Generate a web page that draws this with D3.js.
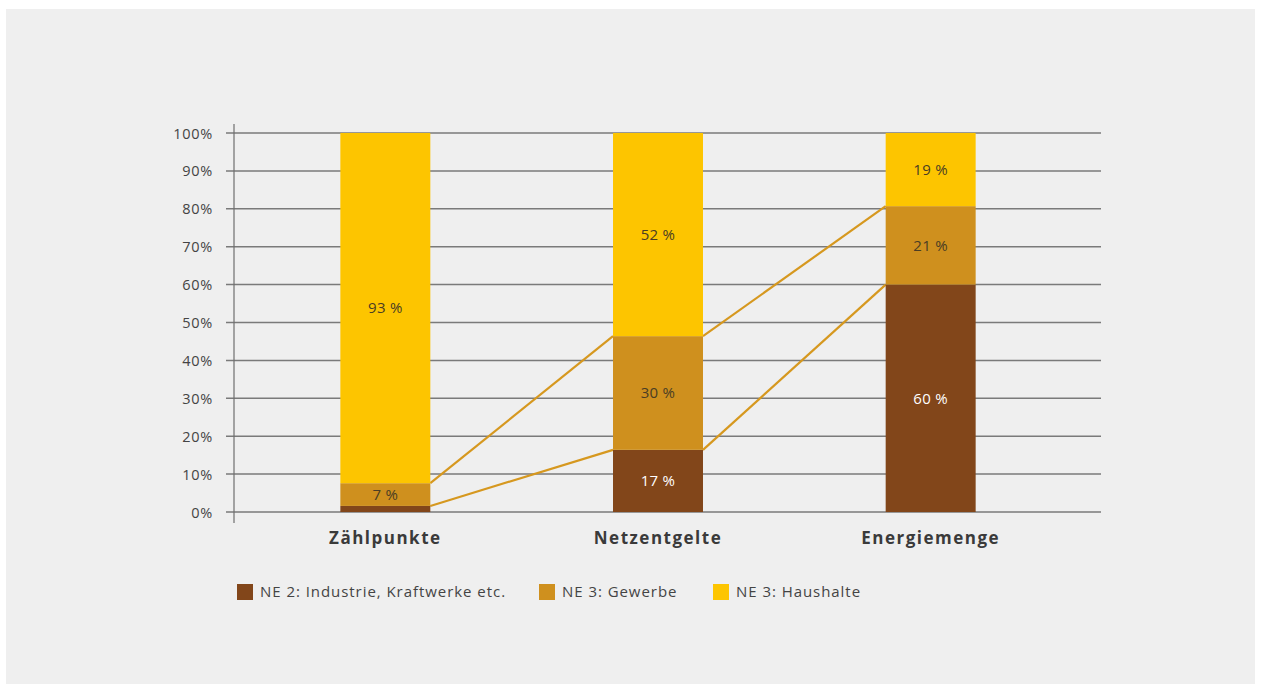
<!DOCTYPE html>
<html><head><meta charset="utf-8">
<script src="https://cdn.jsdelivr.net/npm/d3@7"></script>
<style>
html,body{margin:0;padding:0;background:#fff;}
svg{display:block;}
text{font-family:"Open Sans","DejaVu Sans",sans-serif;}
</style></head>
<body>
<svg id="chart" width="1261" height="684"></svg>
<script>
const categories = ["Zählpunkte", "Netzentgelte", "Energiemenge"];
const seriesNames = ["NE 2: Industrie, Kraftwerke etc.", "NE 3: Gewerbe", "NE 3: Haushalte"];
const industrie = [1.6, 16.4, 60];
const gewerbe = [6.0, 30.0, 20.7];
const haushalte = [92.4, 53.6, 19.3];
const labelsIndustrie = ["", "17 %", "60 %"];
const labelsGewerbe = ["7 %", "30 %", "21 %"];
const labelsHaushalte = ["93 %", "52 %", "19 %"];
const yTicks = [0, 10, 20, 30, 40, 50, 60, 70, 80, 90, 100];

const colors = ["#82461a", "#cf901e", "#fdc500"];
const labelColors = ["#ffffff", "#4a3d24", "#4a3d24"];

const svg = d3.select("#chart");
svg.append("rect").attr("x", 6).attr("y", 9).attr("width", 1249).attr("height", 680).attr("fill", "#efefef");

const x = d3.scaleBand().domain(categories).range([249, 1067]).paddingInner(0.67).paddingOuter(0.335);
const y = d3.scaleLinear().domain([0, 100]).range([512, 133]);

// gridlines
const yAxis = d3.axisLeft(y).tickValues(yTicks).tickSize(0).tickFormat(d => d + "%");
svg.append("g").selectAll("line").data(yTicks).join("line")
  .attr("x1", 226).attr("x2", 1101)
  .attr("y1", d => y(d)).attr("y2", d => y(d))
  .attr("stroke", "#7a7a7a").attr("stroke-width", 1.5);

const ga = svg.append("g").attr("transform", "translate(213,0)").call(yAxis);
ga.select(".domain").remove();
ga.selectAll("text").attr("font-size", 14.5).attr("fill", "#444").attr("x", 0).attr("dy", "0.35em").style("letter-spacing", "0.7px");

// vertical axis line
svg.append("line").attr("x1", 234).attr("x2", 234).attr("y1", 124).attr("y2", 523)
  .attr("stroke", "#6e6e6e").attr("stroke-width", 1.2);

// stack
const rows = categories.map((c, i) => ({cat: c, s0: industrie[i], s1: gewerbe[i], s2: haushalte[i]}));
const stack = d3.stack().keys(["s0", "s1", "s2"]);
const stacked = stack(rows);
const labelSets = [labelsIndustrie, labelsGewerbe, labelsHaushalte];

// connector lines (behind bars)
const conn = svg.append("g");
for (let i = 0; i < categories.length - 1; i++) {
  for (let k = 0; k < 2; k++) {
    const a = stacked[k][i][1], b = stacked[k][i + 1][1];
    conn.append("line")
      .attr("x1", x(categories[i]) + x.bandwidth()).attr("y1", y(a))
      .attr("x2", x(categories[i + 1])).attr("y2", y(b))
      .attr("stroke", "#d6981f").attr("stroke-width", 2.2);
  }
}

stacked.forEach((layer, k) => {
  svg.append("g").selectAll("rect").data(layer).join("rect")
    .attr("x", d => x(d.data.cat)).attr("width", x.bandwidth())
    .attr("y", d => y(d[1])).attr("height", d => y(d[0]) - y(d[1]))
    .attr("fill", colors[k]);
  svg.append("g").selectAll("text").data(layer).join("text")
    .attr("x", d => x(d.data.cat) + x.bandwidth() / 2)
    .attr("y", d => (y(d[0]) + y(d[1])) / 2)
    .attr("dy", "0.35em").attr("text-anchor", "middle")
    .attr("font-size", 15).attr("fill", labelColors[k])
    .style("letter-spacing", "0.3px")
    .text((d, i) => labelSets[k][i]);
});

// category labels
svg.append("g").selectAll("text").data(categories).join("text")
  .attr("x", d => x(d) + x.bandwidth() / 2).attr("y", 538).attr("dy", "0.35em")
  .attr("text-anchor", "middle").attr("font-size", 17).attr("font-weight", "bold")
  .attr("fill", "#3a3a3a").style("letter-spacing", "1.5px")
  .text(d => d);

// legend
const legendX = [237, 539, 713];
const lg = svg.append("g").selectAll("g").data(seriesNames).join("g")
  .attr("transform", (d, i) => `translate(${legendX[i]},584)`);
lg.append("rect").attr("width", 16).attr("height", 16).attr("fill", (d, i) => colors[i]);
lg.append("text").attr("x", 23).attr("y", 8).attr("dy", "0.35em")
  .attr("font-size", 15).attr("fill", "#444").style("letter-spacing", "0.95px").text(d => d);
</script>
</body></html>
